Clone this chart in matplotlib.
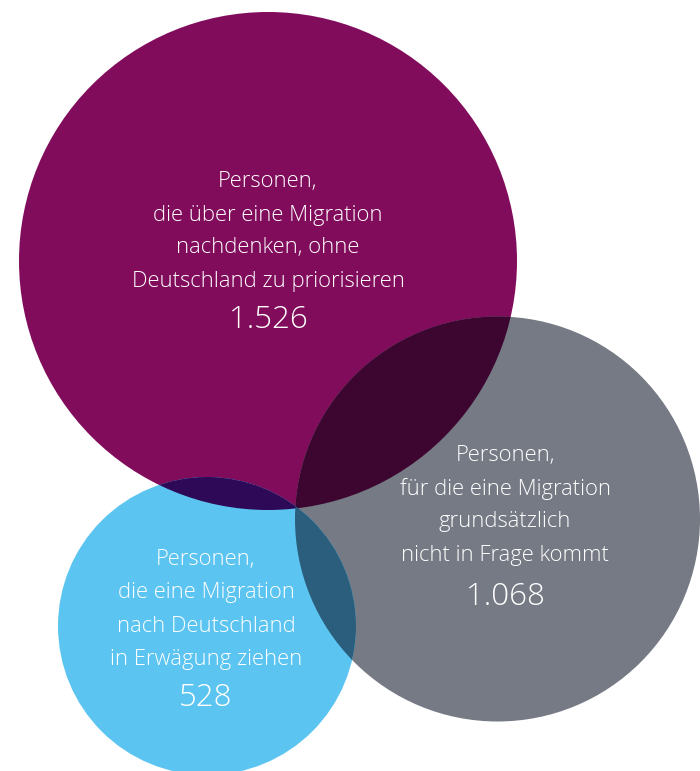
import matplotlib
matplotlib.use("Agg")
import matplotlib.pyplot as plt
from matplotlib.patches import Circle
import numpy as np

# ---- data ----
groups = ["migration_ohne_de", "keine_migration", "migration_de"]
labels = [
    ["Personen,", "die über eine Migration", "nachdenken, ohne", "Deutschland zu priorisieren"],
    ["Personen,", "für die eine Migration", "grundsätzlich", "nicht in Frage kommt"],
    ["Personen,", "die eine Migration", "nach Deutschland", "in Erwägung ziehen"],
]
values = [1526, 1068, 528]
value_labels = ["1.526", "1.068", "528"]

# ---- layout / style ----
centers = [(268, 261), (497.5, 519), (207, 626)]
radii = [249, 202.5, 149]
colors = ["#820C5C", "#757A84", "#5BC4F0"]
label_pos = [(268, 182), (505, 456), (206, 559)]
line_step = [33, 33, 33.5]
num_offset = [138, 141, 139]

plt.rcParams['font.family'] = ['Open Sans', 'DejaVu Sans']

fig = plt.figure(figsize=(7.0, 7.71), dpi=100)
ax = fig.add_axes([0, 0, 1, 1])
ax.set_xlim(0, 700)
ax.set_ylim(771, 0)
ax.set_aspect('equal')
ax.axis('off')

def rgb(h):
    h = h.lstrip('#')
    return np.array([int(h[i:i+2], 16) for i in (0, 2, 4)]) / 255.0

# base circles
for c, r, col in zip(centers, radii, colors):
    ax.add_patch(Circle(c, r, facecolor=col, edgecolor='none', zorder=1))

# pairwise overlaps with multiply blending
n = len(centers)
for i in range(n):
    for j in range(i + 1, n):
        col = rgb(colors[i]) * rgb(colors[j])
        p = Circle(centers[i], radii[i], facecolor=col, edgecolor='none', zorder=2)
        ax.add_patch(p)
        p.set_clip_path(Circle(centers[j], radii[j], transform=ax.transData))

# texts
for k in range(n):
    x, y0 = label_pos[k]
    for li, line in enumerate(labels[k]):
        ax.text(x, y0 + li * line_step[k], line, color='white', fontsize=15.8,
                fontweight='light', ha='center', va='center', zorder=5)
    ax.text(x, y0 + num_offset[k], value_labels[k], color='white', fontsize=22.5,
            fontweight='light', ha='center', va='center', zorder=5)

fig.savefig("out.png", dpi=100, facecolor='white')
